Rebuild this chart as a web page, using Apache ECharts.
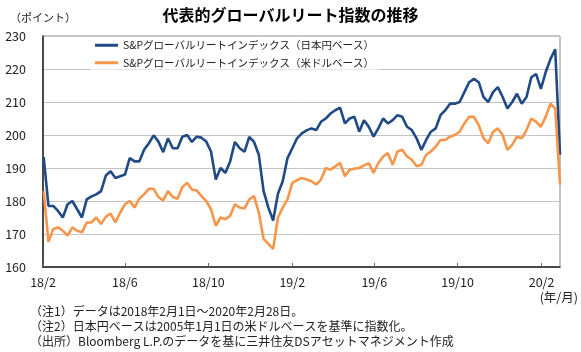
<!DOCTYPE html>
<html>
<head>
<meta charset="utf-8">
<script src="https://cdn.jsdelivr.net/npm/echarts@6/dist/echarts.min.js"></script>
<style>
  html, body { margin: 0; padding: 0; background: #fff; }
  #chart { width: 581px; height: 352px; }
</style>
</head>
<body>
<div id="chart"></div>
<script>
// weekly closes (Fridays), first week 2018-02-02, last 2020-02-28
const origin = Date.UTC(2018, 1, 1);
const firstWeek = Date.UTC(2018, 1, 2);
const lastDay = Date.UTC(2020, 1, 28);
const dayMs = 24 * 3600 * 1000;

// S&P global REIT index, yen base
const jpyBase = [
  193.3, 178.5, 178.5, 177, 175, 179, 180, 177.5, 175, 180.5,
  181.4, 182, 183, 187.7, 189, 187, 187.5, 188, 193, 192,
  192, 195.5, 197.5, 199.9, 198, 194.8, 199, 196, 196, 199.5,
  200, 197.9, 199.5, 199.2, 198, 195, 186.5, 190, 188.5, 192,
  197.9, 196, 194.9, 199.4, 197.9, 194, 183, 178, 174.1, 182.2,
  186, 193, 196, 199, 200.5, 201.4, 202, 201.5, 204, 205,
  206.5, 207.5, 208.3, 203.5, 205, 205.5, 201, 204.5, 202.5, 199.5,
  202, 205, 203.5, 204.5, 206, 205.5, 202.5, 201.5, 199, 195.5,
  198.5, 201, 202, 206, 207.5, 209.5, 209.5, 210, 213, 216,
  217, 216, 211.5, 210, 213, 214.5, 211.5, 208, 210, 212.5,
  209.5, 211.5, 217.5, 218.5, 214, 219, 223, 226, 194
];

// S&P global REIT index, US dollar base
const usdBase = [
  183, 167.6, 171.5, 172, 171, 169.5, 172, 171, 170.5, 173.5,
  173.5, 175, 173, 175.2, 176.2, 173.5, 176.5, 179, 180, 178,
  180.7, 182, 183.7, 183.7, 181.2, 180.2, 183, 181.2, 180.7, 184.2,
  185.5, 183.5, 183.2, 181.5, 180, 177.5, 172.5, 175, 174.5, 175.5,
  179, 178, 177.7, 180.5, 181.5, 176.5, 168.5, 167, 165.5, 175,
  178, 180.5, 185.5, 186.3, 187, 186.5, 186, 185, 186.5, 190,
  189.5, 190.5, 191.5, 187.5, 189.5, 189.8, 190, 190.8, 191.5, 188.5,
  191.5, 193.5, 194.5, 191, 195, 195.5, 193.5, 192.5, 190.5, 191,
  194, 195, 196.5, 198.5, 198.5, 199.5, 200, 201, 203.5, 205.5,
  205.5, 203, 199, 197.5, 201, 202, 200, 195.5, 197, 199.5,
  199, 201.5, 205, 204, 202.5, 205.5, 209.5, 208, 185
];

const tickDates = [
  Date.UTC(2018, 1, 1), Date.UTC(2018, 5, 1), Date.UTC(2018, 9, 1),
  Date.UTC(2019, 1, 1), Date.UTC(2019, 5, 1), Date.UTC(2019, 9, 1),
  Date.UTC(2020, 1, 1)
];
const tickLabels = ['18/2', '18/6', '18/10', '19/2', '19/6', '19/10', '20/2'];

const seriesNames = [
  'S&Pグローバルリートインデックス（日本円ベース）',
  'S&Pグローバルリートインデックス（米ドルベース）'
];

const notes = [
  '（注1）データは2018年2月1日～2020年2月28日。',
  '（注2）日本円ベースは2005年1月1日の米ドルベースを基準に指数化。',
  '（出所）Bloomberg L.P.のデータを基に三井住友DSアセットマネジメント作成'
];

const font = '"Noto Sans CJK JP", "Noto Sans", sans-serif';
const toDay = t => Math.round((t - origin) / dayMs);
const weekDay = i => toDay(firstWeek) + i * 7;
const tickDays = tickDates.map(toDay);

const chart = echarts.init(document.getElementById('chart'));

chart.setOption({
  animation: false,
  textStyle: { fontFamily: font },
  title: {
    text: '代表的グローバルリート指数の推移',
    left: 'center',
    top: 2,
    textStyle: { fontSize: 16, fontWeight: 'bold', color: '#000', fontFamily: font }
  },
  grid: {
    left: 43, right: 21, top: 36, bottom: 85,
    show: true, borderColor: '#8c8c8c', borderWidth: 1
  },
  legend: {
    orient: 'vertical',
    left: 90, top: 38,
    itemWidth: 23, itemHeight: 3, itemGap: 7,
    icon: 'rect',
    padding: [2, 5],
    backgroundColor: 'rgba(255,255,255,0.6)',
    textStyle: { fontSize: 10.5, color: '#222', fontFamily: font },
    data: seriesNames
  },
  xAxis: {
    type: 'value',
    min: 0,
    max: toDay(lastDay),
    axisLine: { lineStyle: { color: '#222', width: 1.5 } },
    axisTick: { show: true, inside: true, length: 4, customValues: tickDays, lineStyle: { color: '#666' } },
    axisLabel: {
      customValues: tickDays,
      fontSize: 12.5, color: '#222', margin: 9,
      formatter: v => tickLabels[tickDays.indexOf(Math.round(v))]
    },
    splitLine: { show: false }
  },
  yAxis: {
    type: 'value',
    min: 160, max: 230, interval: 10,
    axisLine: { show: true, lineStyle: { color: '#222', width: 1.5 } },
    axisTick: { show: false },
    axisLabel: { fontSize: 12.5, color: '#222', margin: 17 },
    splitLine: { lineStyle: { color: '#c4c4c4', width: 1 } }
  },
  series: [
    {
      name: seriesNames[0],
      type: 'line',
      showSymbol: false,
      color: '#1f4a85',
      lineStyle: { width: 2.6 },
      data: jpyBase.map((v, i) => [weekDay(i), v])
    },
    {
      name: seriesNames[1],
      type: 'line',
      showSymbol: false,
      color: '#f7964a',
      lineStyle: { width: 2.6 },
      data: usdBase.map((v, i) => [weekDay(i), v])
    }
  ],
  graphic: [
    { type: 'text', left: 10, top: 12, style: { text: '（ポイント）', fontSize: 11, fill: '#222', fontFamily: font } },
    { type: 'text', right: 3, top: 291, style: { text: '(年/月)', fontSize: 12.5, fill: '#222', fontFamily: font } },
    { type: 'text', left: 30, top: 305, style: { text: notes[0], fontSize: 12, fill: '#222', fontFamily: font } },
    { type: 'text', left: 30, top: 320, style: { text: notes[1], fontSize: 12, fill: '#222', fontFamily: font } },
    { type: 'text', left: 30, top: 335, style: { text: notes[2], fontSize: 12, fill: '#222', fontFamily: font } }
  ]
});
</script>
</body>
</html>
